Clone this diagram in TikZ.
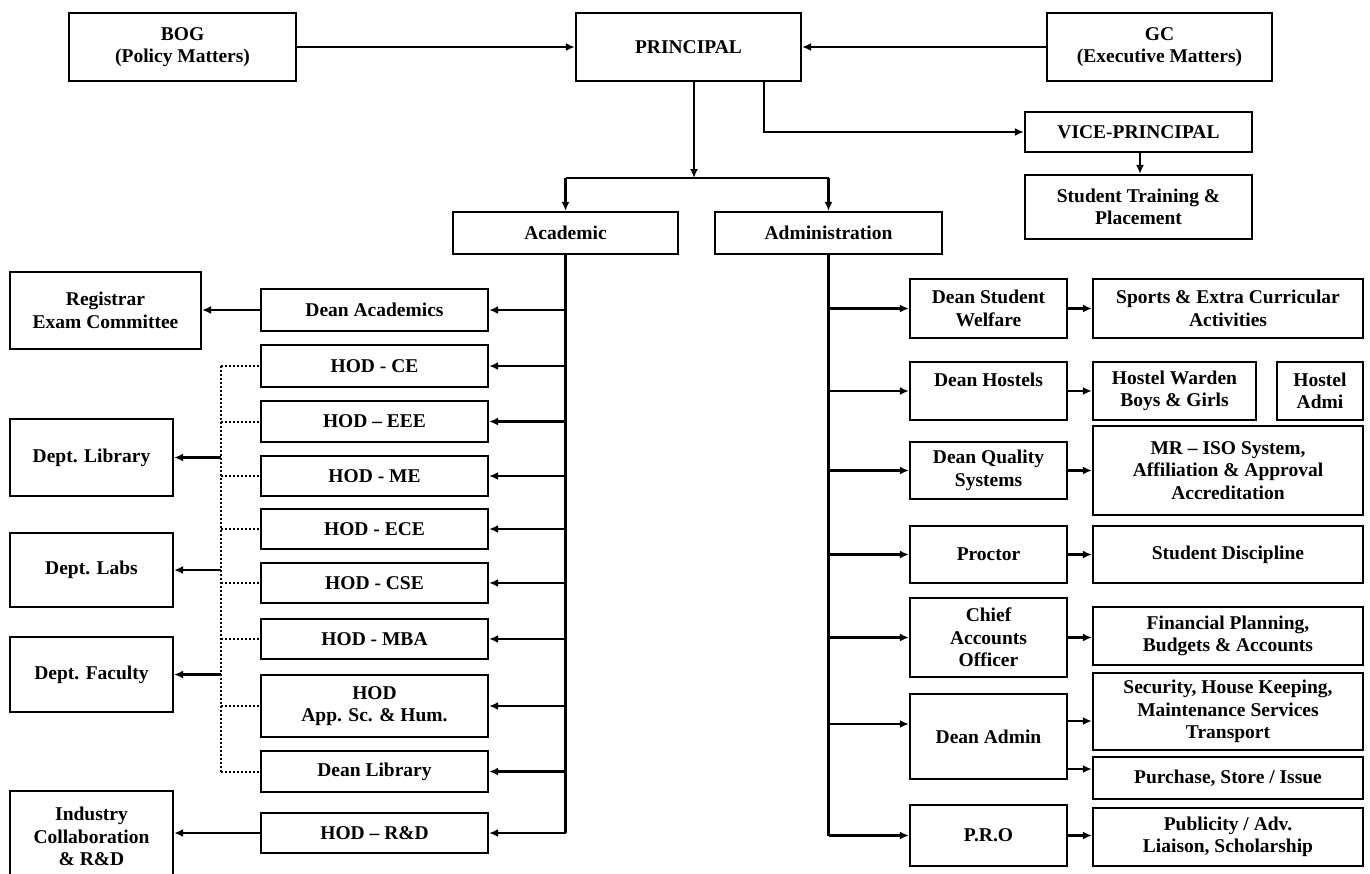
\documentclass[tikz,border=0pt]{standalone}
\usepackage{fontspec}
\setmainfont{Liberation Serif}
\usetikzlibrary{arrows.meta}
\newcommand{\bx}[6]{\node[box, minimum width={#4pt-#2pt}, minimum height={#5pt-#3pt}] (#1) at ({(#2+#4)/2},{(#3+#5)/2}) {#6};}
\begin{document}
\begin{tikzpicture}[x=1pt,y=-1pt,
 box/.style={draw, line width=2.3pt, inner sep=0pt, align=center, font=\fontsize{19.5}{22.5}\selectfont\bfseries},
 conn/.style={line width=2.2pt},
 arr/.style={line width=2.2pt, -{Latex[length=9pt,width=8pt]}},
 dotl/.style={line width=2pt, dash pattern=on 2pt off 2pt}]
\clip (0,0) rectangle (1370,873);
\fill[white] (0,0) rectangle (1370,873);
% top
\bx{BOG}{69}{13}{296}{81}{BOG\\(Policy Matters)}
\bx{PRIN}{576}{13}{801}{81}{PRINCIPAL}
\bx{GC}{1047}{13}{1272}{81}{GC\\(Executive Matters)}
\bx{VICE}{1025}{112}{1252}{152}{VICE-PRINCIPAL}
\bx{STP}{1025}{175}{1252}{239}{Student Training \&\\Placement}
\bx{ACAD}{453}{212}{678}{254}{Academic}
\bx{ADMN}{715}{212}{942}{254}{Administration}
% academic side
\bx{REG}{10}{272}{201}{349}{Registrar\\Exam Committee}
\bx{DACAD}{261}{289}{488}{331}{Dean Academics}
\bx{HCE}{261}{345}{488}{387}{HOD - CE}
\bx{HEEE}{261}{401}{488}{442}{HOD – EEE}
\bx{HME}{261}{456}{488}{496}{HOD - ME}
\bx{HECE}{261}{509}{488}{549}{HOD - ECE}
\bx{HCSE}{261}{563}{488}{603}{HOD - CSE}
\bx{HMBA}{261}{619}{488}{659}{HOD - MBA}
\bx{HAPP}{261}{675}{488}{737}{HOD\\App. Sc. \& Hum.}
\bx{DLIB}{261}{751}{488}{792}{Dean Library}
\bx{HRD}{261}{813}{488}{853}{HOD – R\&D}
\bx{DEPTLIB}{10}{419}{173}{496}{Dept. Library}
\bx{DEPTLABS}{10}{533}{173}{607}{Dept. Labs}
\bx{DEPTFAC}{10}{637}{173}{712}{Dept. Faculty}
\bx{IND}{10}{791}{173}{882}{Industry\\Collaboration\\\& R\&D}
% admin side
\bx{DSW}{910}{279}{1067}{338}{Dean Student\\Welfare}
\bx{SPORTS}{1093}{279}{1363}{338}{Sports \& Extra Curricular\\Activities}
\bx{DHOS}{910}{362}{1067}{420}{Dean Hostels\\\mbox{}}
\bx{HWARD}{1093}{362}{1256}{420}{Hostel Warden\\Boys \& Girls}
\bx{HADMI}{1277}{362}{1363}{420}{Hostel\\Admi}
\bx{DQS}{910}{442}{1067}{499}{Dean Quality\\Systems}
\bx{MRISO}{1093}{426}{1363}{515}{MR – ISO System,\\Affiliation \& Approval\\Accreditation}
\bx{PROC}{910}{526}{1067}{583}{Proctor}
\bx{SDISC}{1093}{526}{1363}{583}{Student Discipline}
\bx{CAO}{910}{598}{1067}{677}{Chief\\Accounts\\Officer}
\bx{FIN}{1093}{607}{1363}{665}{Financial Planning,\\Budgets \& Accounts}
\bx{DADM}{910}{694}{1067}{779}{Dean Admin}
\bx{SEC}{1093}{673}{1363}{750}{Security, House Keeping,\\Maintenance Services\\Transport}
\bx{PURCH}{1093}{757}{1363}{799}{Purchase, Store / Issue}
\bx{PRO}{910}{805}{1067}{866}{P.R.O}
\bx{PUB}{1093}{808}{1363}{866}{Publicity / Adv.\\Liaison, Scholarship}
% top connectors
\draw[arr] (BOG.east) -- (PRIN.west |- BOG.east);
\draw[arr] (GC.west) -- (PRIN.east |- GC.west);
\coordinate (pd) at (694,81);
\coordinate (split) at (694,178);
\draw[arr] (pd) -- (split);
\draw[conn] (ACAD.north |- split) -- (ADMN.north |- split);
\draw[arr] (ACAD.north |- split) -- (ACAD.north);
\draw[arr] (ADMN.north |- split) -- (ADMN.north);
\coordinate (vd) at (764,81);
\draw[arr] (vd) |- (VICE.west);
\coordinate (vx) at (1140,0);
\draw[arr] (VICE.south -| vx) -- (STP.north -| vx);
% academic line
\draw[conn] (ACAD.south) -- (ACAD.south |- HRD.east);
\foreach \n in {DACAD,HCE,HEEE,HME,HECE,HCSE,HMBA,HAPP,DLIB,HRD}
  \draw[arr] (ACAD.south |- \n.east) -- (\n.east);
\draw[arr] (DACAD.west) -- (REG.east |- DACAD.west);
\draw[arr] (HRD.west) -- (IND.east |- HRD.west);
% dotted
\coordinate (dtop) at (221,366);
\draw[dotl] (HCE.west -| dtop) -- (DLIB.west -| dtop);
\foreach \n in {HCE,HEEE,HME,HECE,HCSE,HMBA,HAPP,DLIB}
  \draw[dotl] (\n.west -| dtop) -- (\n.west);
\draw[arr] (DEPTLIB.east -| dtop) -- (DEPTLIB.east);
\draw[arr] (DEPTLABS.east -| dtop) -- (DEPTLABS.east);
\draw[arr] (DEPTFAC.east -| dtop) -- (DEPTFAC.east);
% admin line
\draw[conn] (ADMN.south) -- (ADMN.south |- PRO.west);
\foreach \n in {DSW,DHOS,DQS,PROC,CAO,PRO}
  \draw[arr] (ADMN.south |- \n.west) -- (\n.west);
\coordinate (ya) at (0,724);
\coordinate (ys) at (0,721);
\coordinate (yp) at (0,769);
\draw[arr] (ADMN.south |- ya) -- (DADM.west |- ya);
\draw[arr] (DSW.east) -- (SPORTS.west |- DSW.east);
\draw[arr] (DHOS.east) -- (HWARD.west |- DHOS.east);
\draw[arr] (DQS.east) -- (MRISO.west |- DQS.east);
\draw[arr] (PROC.east) -- (SDISC.west |- PROC.east);
\draw[arr] (CAO.east) -- (FIN.west |- CAO.east);
\draw[arr] (DADM.east |- ys) -- (SEC.west |- ys);
\draw[arr] (DADM.east |- yp) -- (PURCH.west |- yp);
\draw[arr] (PRO.east) -- (PUB.west |- PRO.east);
\end{tikzpicture}
\end{document}
